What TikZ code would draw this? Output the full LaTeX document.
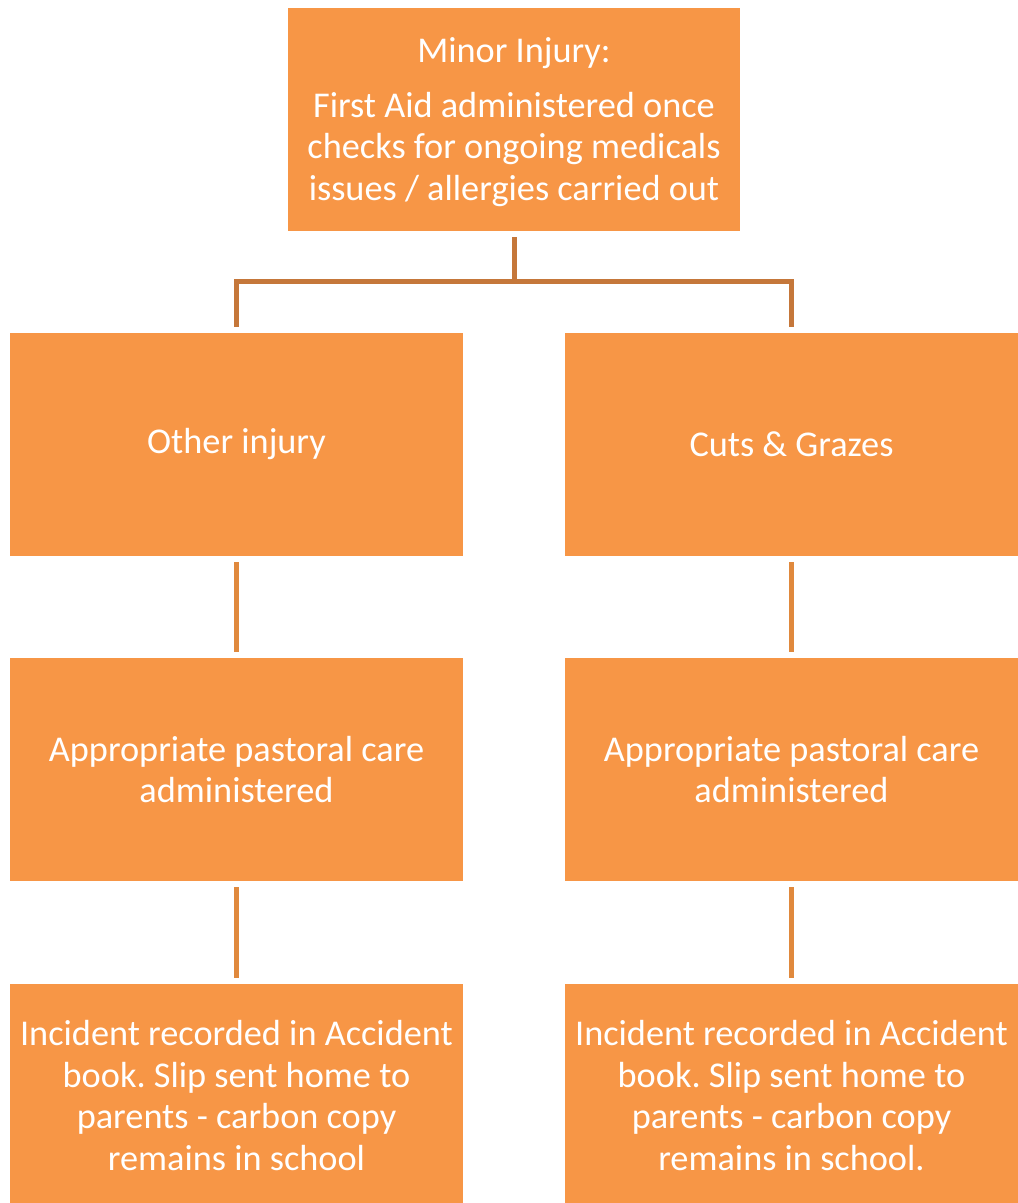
\documentclass[tikz,border=0pt]{standalone}
\usepackage{fontspec}
\setmainfont{Carlito}
\usetikzlibrary{calc}
\definecolor{boxorange}{HTML}{F79646}
\definecolor{conndark}{HTML}{C5773A}
\definecolor{connmid}{HTML}{E0893D}
\begin{document}
\begin{tikzpicture}[x=1pt,y=-1pt,
  boxtext/.style={inner sep=0pt, align=center, text=white, font=\fontsize{36.3}{41.5}\selectfont\frenchspacing},
  box/.style={boxtext, fill=boxorange, draw=none, rectangle, minimum width=453pt, minimum height=223pt},
  conn/.style={draw=conndark, line width=5pt, shorten <=6pt, shorten >=6pt},
  connv/.style={draw=connmid, line width=5pt, shorten <=6pt, shorten >=6pt}]
\clip (0,0) rectangle (1018,1203);
\useasboundingbox (0,0) rectangle (1018,1203);
\node[box, minimum width=452pt, label={[boxtext, yshift=-2.5pt]center:{Minor Injury:\\[13pt] First Aid administered once\\ checks for ongoing medicals\\ issues / allergies carried out}}] (top) at (514,119.5) {};
\node[box] (l2) at (236.5,444.5) {Other injury};
\node[box] (r2) at (791.5,444.5) {Cuts \& Grazes};
\node[box] (l3) at (236.5,769.5) {Appropriate pastoral care\\ administered};
\node[box] (r3) at (791.5,769.5) {Appropriate pastoral care\\ administered};
\node[box] (l4) at (236.5,1095.5) {Incident recorded in Accident\\ book. Slip sent home to\\ parents - carbon copy\\ remains in school};
\node[box] (r4) at (791.5,1095.5) {Incident recorded in Accident\\ book. Slip sent home to\\ parents - carbon copy\\ remains in school.};
\draw[conn] (top.south) -- ++(0,50.5) -| (l2.north);
\draw[conn] (top.south) -- ++(0,50.5) -| (r2.north);
\draw[connv] (l2.south) -- (l3.north);
\draw[connv] (r2.south) -- (r3.north);
\draw[connv] (l3.south) -- (l4.north);
\draw[connv] (r3.south) -- (r4.north);
\end{tikzpicture}
\end{document}
